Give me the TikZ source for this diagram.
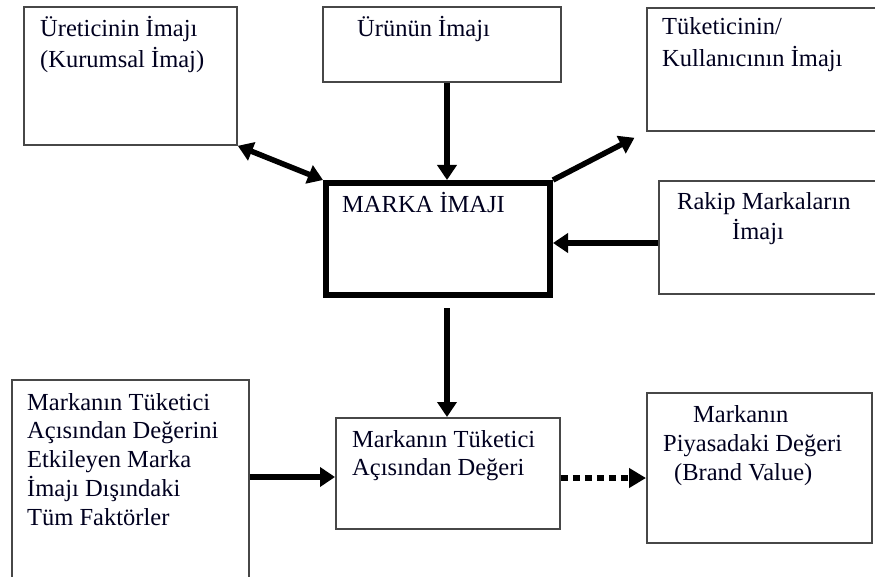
\documentclass[tikz,border=0pt]{standalone}
\usepackage{fontspec}
\setmainfont{Liberation Serif}
\usetikzlibrary{arrows.meta,calc}
\begin{document}
\begin{tikzpicture}[x=1pt,y=-1pt,
  box/.style={draw=black!72, line width=1.8pt, inner sep=0pt, anchor=north west},
  thickbox/.style={draw=black, line width=6pt, inner sep=0pt, anchor=north west},
  lbl/.style={anchor=base west, inner sep=0pt, align=left, text=black!88!blue,
    font=\fontsize{24.5pt}{#1}\selectfont},
  lbl/.default=29pt,
  tip/.tip={Triangle[length=15pt,width=19pt]},
  arr/.style={line width=5.5pt, -tip},
  darr/.style={line width=5.5pt, tip-tip},
  dotarr/.style={line width=6pt, dash pattern=on 7pt off 5pt, -{Triangle[length=17pt,width=19pt]}}]
\useasboundingbox (0,0) rectangle (875,577);
\clip (0,0) rectangle (875,577);
\fill[white] (0,0) rectangle (875,577);
% boxes
\node[box, minimum width=213pt, minimum height=138pt] (ur) at (23,6) {};
\node[box, minimum width=238pt, minimum height=75pt] (urun) at (322,6) {};
\node[box, minimum width=240pt, minimum height=123pt] (tuk) at (646,7) {};
\node[thickbox, minimum width=224pt, minimum height=112pt] (marka) at (323,180) {};
\node[box, minimum width=230pt, minimum height=113pt] (rakip) at (658,180) {};
\node[box, minimum width=237pt, minimum height=210pt] (fakt) at (11,379) {};
\node[box, minimum width=224pt, minimum height=111pt] (deg) at (335,417) {};
\node[box, minimum width=225pt, minimum height=150pt] (piy) at (646,392) {};
% texts (anchored at the baseline of their last line)
\node[lbl=31pt] (tur) at (40,68) {Üreticinin İmajı\\(Kurumsal İmaj)};
\node[lbl] (turun) at (357,37) {Ürünün İmajı};
\node[lbl=32pt] (ttuk) at (662,67) {Tüketicinin/\\Kullanıcının İmajı};
\node[lbl] (tmarka) at (342,213) {MARKA İMAJI};
\node[lbl=30pt] (trakip) at (677,240) {Rakip Markaların\\\hspace*{55pt}İmajı};
\node[lbl=28.75pt] (tfakt) at (27,525) {Markanın Tüketici\\Açısından Değerini\\Etkileyen Marka\\İmajı Dışındaki\\Tüm Faktörler};
\node[lbl=28pt] (tdeg) at (352,475) {Markanın Tüketici\\Açısından Değeri};
\node[lbl] (tpiy) at (663,480) {\hspace*{30pt}Markanın\\Piyasadaki Değeri\\\hspace*{11pt}(Brand Value)};
% connectors
\coordinate (vx) at (447,0);
\draw[arr] (urun.south -| vx) -- (marka.north -| vx);
\draw[darr] (ur.south east) -- (marka.north west);
\draw[arr, shorten >=13pt] (marka.north east) -- (tuk.south west);
\draw[arr] (rakip.west |- 0,243) -- (marka.east |- 0,243);
\draw[arr] ($(marka.south -| vx)+(0,10)$) -- (deg.north -| vx);
\draw[arr] (fakt.east |- 0,477) -- (deg.west |- 0,477);
\draw[dotarr] (deg.east |- 0,478) -- (piy.west |- 0,478);
\end{tikzpicture}
\end{document}
